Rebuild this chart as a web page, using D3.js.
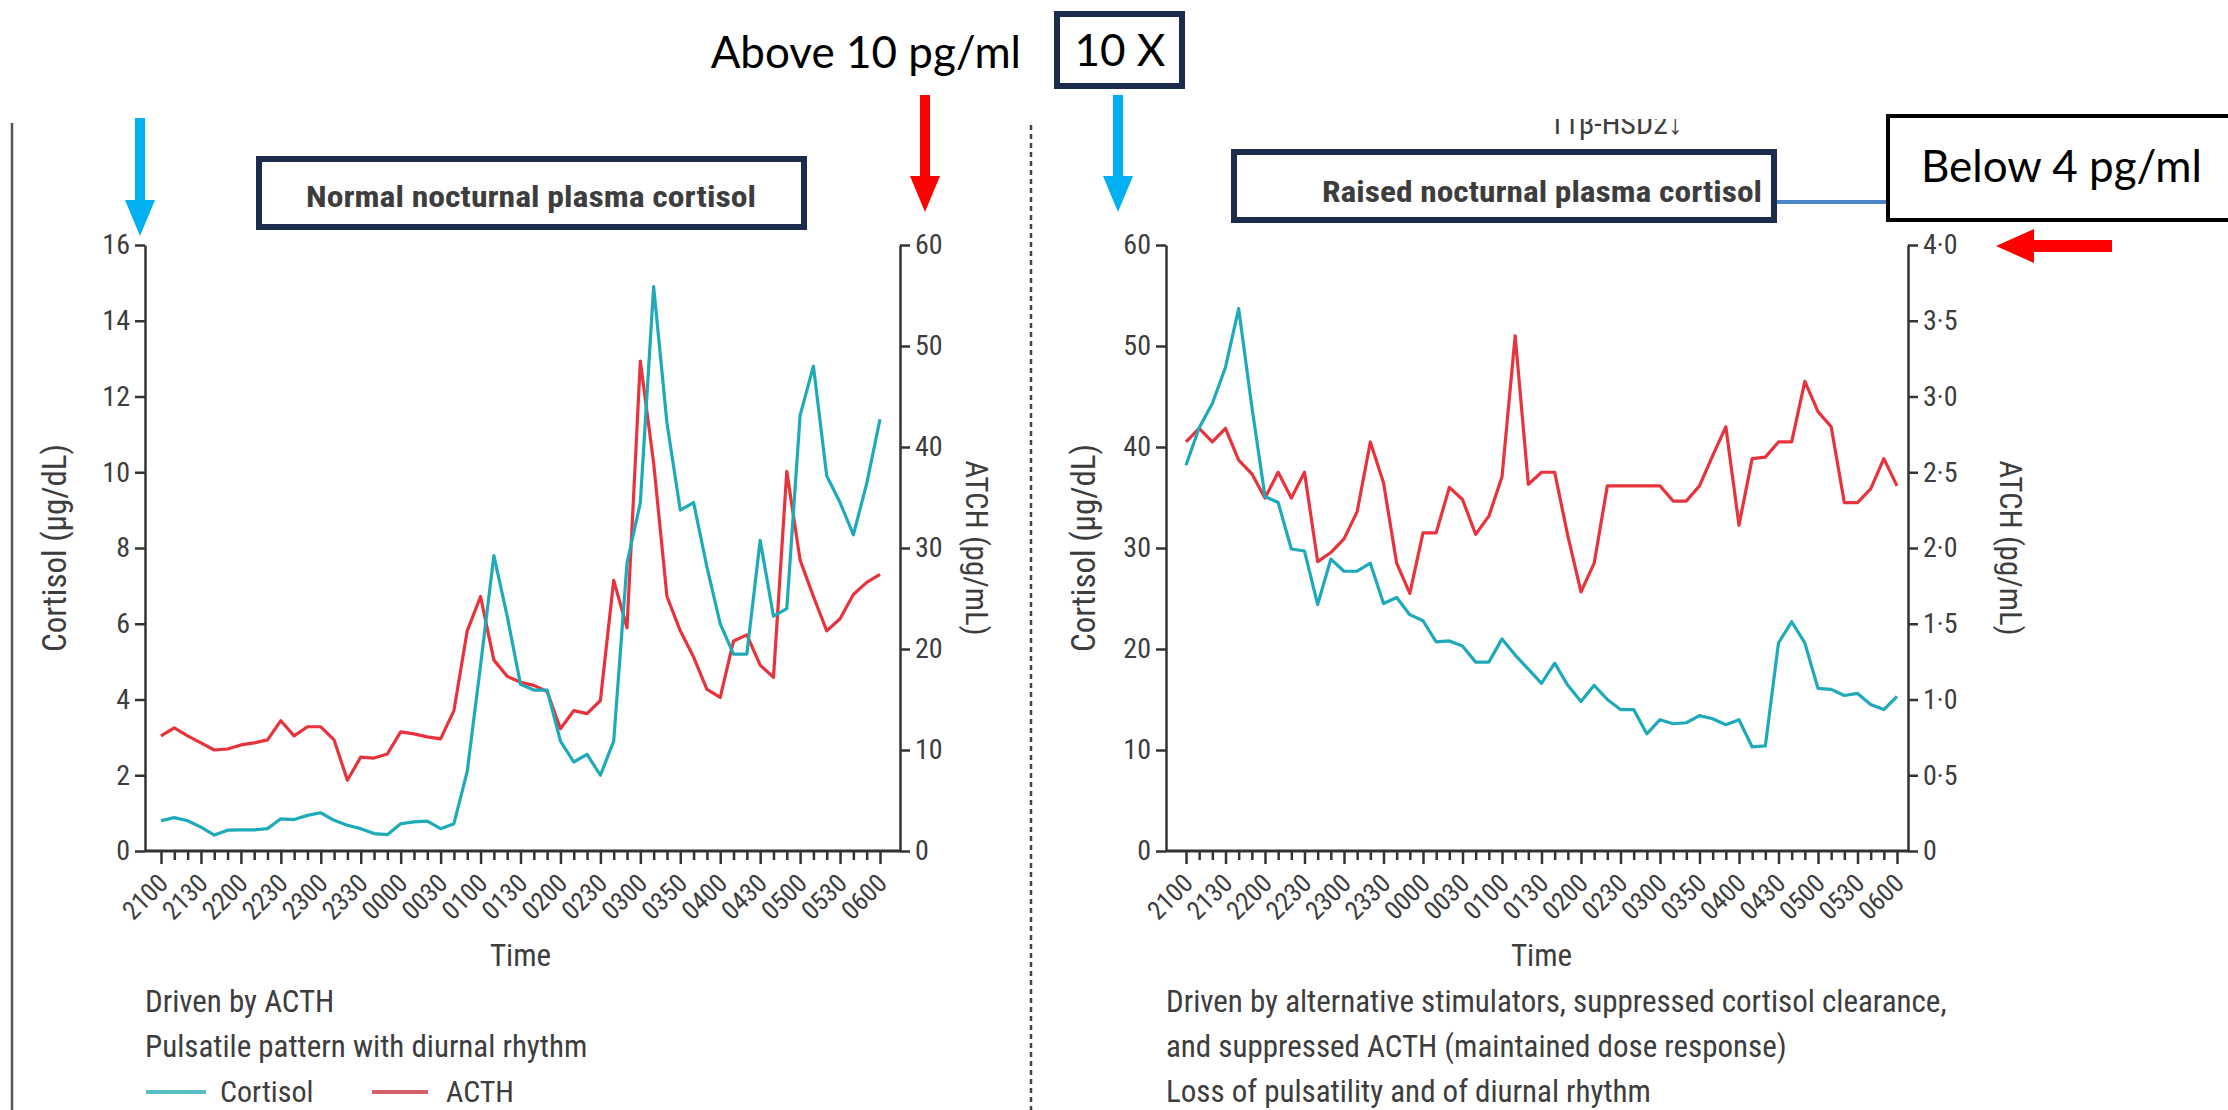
<!DOCTYPE html>
<html>
<head>
<meta charset="utf-8">
<title>Nocturnal plasma cortisol</title>
<script src="https://d3js.org/d3.v7.min.js"></script>
<style>
  body { margin: 0; background: #fff; }
  svg text { font-family: "Liberation Sans Narrow", "Roboto Condensed", Roboto, sans-serif; fill: #3d3d3d; }
  svg .callout { font-family: Lato, "Liberation Sans", sans-serif; fill: #000; }
  .axis path, .axis line { stroke: #333; stroke-width: 2.5; }
</style>
</head>
<body>
<div id="chart"></div>
<script>
// time axis: one point every 10 minutes from 2100 to 0600, labels every 30 min
var tickLabels = ['2100','2130','2200','2230','2300','2330','0000','0030','0100','0130',
                  '0200','0230','0300','0350','0400','0430','0500','0530','0600'];

// left panel, normal (ug/dL and pg/mL)
var normalCortisol = [0.8, 0.88, 0.8, 0.63, 0.42, 0.55, 0.56, 0.56, 0.59, 0.85,
  0.83, 0.94, 1.01, 0.81, 0.68, 0.59, 0.46, 0.43, 0.72, 0.77,
  0.79, 0.59, 0.72, 2.1, 4.9, 7.8, 6.2, 4.4, 4.25, 4.25,
  2.9, 2.35, 2.55, 2.0, 2.9, 7.6, 9.2, 14.9, 11.3, 9.0,
  9.2, 7.5, 6.0, 5.2, 5.2, 8.2, 6.2, 6.4, 11.5, 12.8,
  9.9, 9.2, 8.35, 9.7, 11.4];
var normalActh = [11.4, 12.2, 11.4, 10.7, 10.0, 10.1, 10.5, 10.7, 11.0, 12.9,
  11.4, 12.3, 12.3, 11.0, 7.0, 9.3, 9.2, 9.6, 11.8, 11.6,
  11.3, 11.1, 13.9, 21.8, 25.2, 18.9, 17.3, 16.7, 16.4, 15.8,
  12.1, 13.9, 13.6, 14.9, 26.8, 22.1, 48.5, 38.4, 25.2, 21.8,
  19.2, 16.0, 15.2, 20.8, 21.4, 18.4, 17.2, 37.6, 28.8, 25.2,
  21.8, 23.0, 25.4, 26.6, 27.4];

// right panel, raised
var raisedCortisol = [38.2, 41.9, 44.3, 47.9, 53.7, 44.0, 35.1, 34.5, 29.9, 29.7,
  24.4, 28.9, 27.7, 27.7, 28.5, 24.5, 25.1, 23.4, 22.8, 20.7,
  20.8, 20.3, 18.7, 18.7, 21.0, 19.4, 18.0, 16.6, 18.6, 16.4,
  14.8, 16.4, 15.0, 14.0, 14.0, 11.6, 13.0, 12.6, 12.7, 13.4,
  13.1, 12.5, 13.0, 10.3, 10.4, 20.6, 22.7, 20.6, 16.1, 16.0,
  15.4, 15.6, 14.5, 14.0, 15.3];
var raisedActh = [2.70, 2.79, 2.70, 2.79, 2.58, 2.49, 2.33, 2.50, 2.33, 2.50,
  1.91, 1.97, 2.06, 2.24, 2.70, 2.43, 1.90, 1.70, 2.10, 2.10,
  2.40, 2.32, 2.09, 2.21, 2.47, 3.40, 2.42, 2.50, 2.50, 2.08,
  1.71, 1.90, 2.41, 2.41, 2.41, 2.41, 2.41, 2.31, 2.31, 2.41,
  2.61, 2.80, 2.15, 2.59, 2.60, 2.70, 2.70, 3.10, 2.90, 2.80,
  2.30, 2.30, 2.39, 2.59, 2.41];

var normalLeftTicks = [0, 2, 4, 6, 8, 10, 12, 14, 16];
var normalRightTicks = [0, 10, 20, 30, 40, 50, 60];
var raisedLeftTicks = [0, 10, 20, 30, 40, 50, 60];
var raisedRightTicks = [0, 0.5, 1, 1.5, 2, 2.5, 3, 3.5, 4];

var width = 2228, height = 1110;
var cyan = '#1eaab9', red = '#e8323c';

var svg = d3.select('#chart').append('svg')
  .attr('width', width).attr('height', height);

function panel(p) {
  var g = svg.append('g');
  var n = p.cortisol.length;
  var x = d3.scaleLinear().domain([0, n - 1]).range([p.x0, p.x1]);
  var yL = d3.scaleLinear().domain([0, p.leftMax]).range([851, 245]);
  var yR = d3.scaleLinear().domain([0, p.rightMax]).range([851, 245]);

  // x axis line and ticks
  g.append('line').attr('x1', p.axL).attr('x2', p.axR).attr('y1', 851).attr('y2', 851)
    .attr('stroke', '#333').attr('stroke-width', 3);
  var xa = g.append('g').attr('class', 'axis').attr('transform', 'translate(0,851)')
    .call(d3.axisBottom(x).tickValues(d3.range(n)).tickSize(9).tickSizeOuter(0)
      .tickFormat(function(i) { return i % 3 === 0 ? tickLabels[i / 3] : ''; }));
  xa.select('.domain').remove();
  xa.selectAll('.tick line').attr('y2', function(i) { return i % 3 === 0 ? 13 : 9; });
  xa.selectAll('.tick text')
    .attr('font-size', 26).attr('text-anchor', 'end')
    .attr('x', 0).attr('y', 0).attr('dy', 0)
    .attr('transform', 'translate(8,34) rotate(-45)');

  // left y axis
  var la = g.append('g').attr('class', 'axis').attr('transform', 'translate(' + p.axL + ',0)')
    .call(d3.axisLeft(yL).tickValues(p.leftTicks).tickSize(10).tickSizeOuter(0).tickPadding(5));
  la.selectAll('text').attr('font-size', 28);

  // right y axis
  var ra = g.append('g').attr('class', 'axis').attr('transform', 'translate(' + p.axR + ',0)')
    .call(d3.axisRight(yR).tickValues(p.rightTicks).tickSize(10).tickSizeOuter(0).tickPadding(5)
      .tickFormat(p.rightFormat));
  ra.selectAll('text').attr('font-size', 28);

  g.selectAll('.axis text').attr('fill', '#444');

  // series
  var line = function(scale) {
    return d3.line().x(function(d, i) { return x(i); }).y(function(d) { return scale(d); });
  };
  g.append('path').datum(p.acth).attr('d', line(yR))
    .attr('fill', 'none').attr('stroke', red).attr('stroke-width', 3.2).attr('stroke-linejoin', 'round');
  g.append('path').datum(p.cortisol).attr('d', line(yL))
    .attr('fill', 'none').attr('stroke', cyan).attr('stroke-width', 3.2).attr('stroke-linejoin', 'round');

  // titles
  g.append('text').attr('transform', 'translate(' + p.titleL + ',548) rotate(-90)')
    .attr('text-anchor', 'middle').attr('font-size', 33).text('Cortisol (μg/dL)');
  g.append('text').attr('transform', 'translate(' + p.titleR + ',548) rotate(90)')
    .attr('text-anchor', 'middle').attr('font-size', 31).text('ATCH (pg/mL)');
  g.append('text').attr('x', (p.x0 + p.x1) / 2).attr('y', 966)
    .attr('text-anchor', 'middle').attr('font-size', 31).text('Time');

  // notes under the panel
  p.notes.forEach(function(t, k) {
    g.append('text').attr('x', p.axL).attr('y', 1012 + k * 45).attr('font-size', 31).text(t);
  });
}

panel({
  cortisol: normalCortisol, acth: normalActh,
  x0: 161, x1: 880, axL: 145, axR: 900,
  leftMax: 16, rightMax: 60,
  leftTicks: normalLeftTicks, rightTicks: normalRightTicks,
  rightFormat: d3.format('d'),
  titleL: 66, titleR: 966,
  notes: ['Driven by ACTH', 'Pulsatile pattern with diurnal rhythm']
});

panel({
  cortisol: raisedCortisol, acth: raisedActh,
  x0: 1186, x1: 1897, axL: 1166, axR: 1908,
  leftMax: 60, rightMax: 4,
  leftTicks: raisedLeftTicks, rightTicks: raisedRightTicks,
  rightFormat: function(d) { return d === 0 ? '0' : d.toFixed(1).replace('.', '·'); },
  titleL: 1095, titleR: 2000,
  notes: ['Driven by alternative stimulators, suppressed cortisol clearance,',
          'and suppressed ACTH (maintained dose response)',
          'Loss of pulsatility and of diurnal rhythm']
});

// legend for left panel
var leg = svg.append('g');
leg.append('line').attr('x1', 146).attr('x2', 206).attr('y1', 1092).attr('y2', 1092)
  .attr('stroke', '#5cbcc6').attr('stroke-width', 4);
leg.append('text').attr('x', 220).attr('y', 1102).attr('font-size', 30).text('Cortisol');
leg.append('line').attr('x1', 372).attr('x2', 428).attr('y1', 1092).attr('y2', 1092)
  .attr('stroke', '#d2606c').attr('stroke-width', 4);
leg.append('text').attr('x', 446).attr('y', 1102).attr('font-size', 30).text('ACTH');

// frame lines
svg.append('line').attr('x1', 12).attr('x2', 12).attr('y1', 123).attr('y2', height)
  .attr('stroke', '#555').attr('stroke-width', 2.5);
svg.append('line').attr('x1', 1031).attr('x2', 1031).attr('y1', 125).attr('y2', height)
  .attr('stroke', '#444').attr('stroke-width', 2.5).attr('stroke-dasharray', '5,4');

// boxes around the panel headings
svg.append('rect').attr('x', 259).attr('y', 159).attr('width', 545).attr('height', 68)
  .attr('fill', 'none').attr('stroke', '#1c2b4c').attr('stroke-width', 6);
svg.append('text').attr('x', 531).attr('y', 207).attr('text-anchor', 'middle')
  .attr('font-size', 29).attr('font-weight', 'bold').attr('fill', '#333')
  .attr('textLength', 450).attr('lengthAdjust', 'spacingAndGlyphs')
  .text('Normal nocturnal plasma cortisol');

var clip = svg.append('clipPath').attr('id', 'topcut');
clip.append('rect').attr('x', 1500).attr('y', 119).attr('width', 250).attr('height', 30);
svg.append('text').attr('x', 1616).attr('y', 134).attr('text-anchor', 'middle')
  .attr('font-size', 30).attr('fill', '#555').attr('clip-path', 'url(#topcut)')
  .text('11β-HSD2↓');

svg.append('line').attr('x1', 1774).attr('x2', 1890).attr('y1', 202).attr('y2', 202)
  .attr('stroke', '#4a86c8').attr('stroke-width', 4);
svg.append('rect').attr('x', 1234).attr('y', 152).attr('width', 540).attr('height', 68)
  .attr('fill', 'none').attr('stroke', '#1c2b4c').attr('stroke-width', 6);
svg.append('text').attr('x', 1762).attr('y', 202).attr('text-anchor', 'end')
  .attr('font-size', 29).attr('font-weight', 'bold').attr('fill', '#333')
  .attr('textLength', 440).attr('lengthAdjust', 'spacingAndGlyphs')
  .text('Raised nocturnal plasma cortisol');

// callouts
svg.append('text').attr('class', 'callout').attr('x', 1021).attr('y', 68)
  .attr('text-anchor', 'end').attr('font-size', 44).text('Above 10 pg/ml');
svg.append('rect').attr('x', 1057).attr('y', 14).attr('width', 125).attr('height', 72)
  .attr('fill', '#fff').attr('stroke', '#1c2b4c').attr('stroke-width', 6);
svg.append('text').attr('class', 'callout').attr('x', 1120).attr('y', 66)
  .attr('text-anchor', 'middle').attr('font-size', 44).text('10 X');
svg.append('rect').attr('x', 1888).attr('y', 116).attr('width', 360).attr('height', 104)
  .attr('fill', '#fff').attr('stroke', '#000').attr('stroke-width', 4);
svg.append('text').attr('class', 'callout').attr('x', 1921).attr('y', 182)
  .attr('font-size', 44).text('Below 4 pg/ml');

// arrows
function downArrow(cx, y0, y1, color) {
  var hw = 15, sw = 5, hl = 36;
  var pts = [[cx - sw, y0], [cx + sw, y0], [cx + sw, y1 - hl], [cx + hw, y1 - hl],
             [cx, y1], [cx - hw, y1 - hl], [cx - sw, y1 - hl]];
  svg.append('polygon').attr('points', pts.map(function(p) { return p.join(','); }).join(' '))
    .attr('fill', color);
}
downArrow(140, 118, 236, '#00b0f0');
downArrow(925, 95, 212, '#ff0000');
downArrow(1118, 95, 212, '#00b0f0');

var la = [[2112, 240], [2034, 240], [2034, 229], [1996, 246], [2034, 263], [2034, 252], [2112, 252]];
svg.append('polygon').attr('points', la.map(function(p) { return p.join(','); }).join(' '))
  .attr('fill', '#ff0000');
</script>
</body>
</html>
